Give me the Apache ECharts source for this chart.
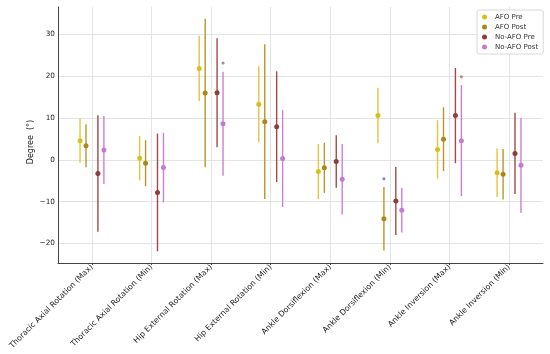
<!DOCTYPE html>
<html>
<head>
<meta charset="utf-8">
<script src="https://cdn.jsdelivr.net/npm/echarts@6/dist/echarts.min.js"></script>
<style>html,body{margin:0;padding:0;background:#fff}#c{width:550px;height:354px}</style>
</head>
<body>
<div id="c"></div>
<script>
var categories = ["Thoracic Axial Rotation (Max)", "Thoracic Axial Rotation (Min)", "Hip External Rotation (Max)", "Hip External Rotation (Min)", "Ankle Dorsiflexion (Max)", "Ankle Dorsiflexion (Min)", "Ankle Inversion (Max)", "Ankle Inversion (Min)"];
var yTicks = [-20, -10, 0, 10, 20, 30];
var seriesNames = ["AFO Pre", "AFO Post", "No-AFO Pre", "No-AFO Post"];
var afoPreMean = [4.6, 0.4, 21.9, 13.3, -2.8, 10.6, 2.5, -3.1];
var afoPreSd = [5.3, 5.3, 7.8, 9.1, 6.6, 6.65, 7.0, 5.8];
var afoPostMean = [3.35, -0.8, 16.0, 9.15, -1.9, -14.1, 4.95, -3.45];
var afoPostSd = [5.15, 5.5, 17.8, 18.55, 6.0, 7.6, 7.65, 6.05];
var noAfoPreMean = [-3.25, -7.8, 16.05, 7.95, -0.4, -9.85, 10.6, 1.55];
var noAfoPreSd = [13.95, 14.1, 13.05, 13.25, 6.3, 8.15, 11.4, 9.75];
var noAfoPostMean = [2.35, -1.85, 8.65, 0.3, -4.65, -12.05, 4.6, -1.3];
var noAfoPostSd = [8.15, 8.35, 12.45, 11.6, 8.45, 5.35, 13.3, 11.4];
// small extra points
var extraCat = [2, 5, 6];
var extraGroup = [3, 1, 3];
var extraVal = [23.2, -4.5, 19.9];

var offsets = [-0.2, -0.1, 0.1, 0.2];
var markerColors = ["#d6c01e", "#a8891c", "#8c3e3e", "#c27bd0"];
var lineColors = ["#e2c540", "#b8962a", "#a04a4a", "#cc80d4"];
var extraColors = ["#9a6e6e", "#5a5ae6", "#b86a48"];
var means = [afoPreMean, afoPostMean, noAfoPreMean, noAfoPostMean];
var sds = [afoPreSd, afoPostSd, noAfoPreSd, noAfoPostSd];

var series = [];
for (var g = 0; g < 4; g++) {
  (function (g) {
    series.push({
      name: seriesNames[g], type: 'scatter', symbol: 'circle', symbolSize: 5, z: 5,
      itemStyle: { color: markerColors[g], opacity: 1 },
      data: means[g].map(function (m, i) { return [i + offsets[g], m]; })
    });
  })(g);
}
for (var g2 = 0; g2 < 4; g2++) {
  (function (g) {
    series.push({
      name: seriesNames[g], type: 'custom', z: 3,
      renderItem: function (params, api) {
        var x = api.value(0), m = api.value(1), s = api.value(2);
        var p1 = api.coord([x, m - s]), p2 = api.coord([x, m + s]);
        return { type: 'line', shape: { x1: p1[0], y1: p1[1], x2: p2[0], y2: p2[1] },
          style: { stroke: lineColors[g], lineWidth: 1.4 } };
      },
      encode: { x: 0, y: 1 },
      data: means[g].map(function (m, i) { return [i + offsets[g], m, sds[g][i]]; })
    });
  })(g2);
}
series.push({
  type: 'scatter', symbolSize: 3, z: 6, silent: true,
  data: extraCat.map(function (c, k) {
    return { value: [c + offsets[extraGroup[k]], extraVal[k]], itemStyle: { color: extraColors[k] } };
  })
});

var chart = echarts.init(document.getElementById('c'), null, { renderer: 'canvas' });
chart.setOption({
  animation: false,
  textStyle: { fontFamily: 'DejaVu Sans' },
  grid: { left: 58, right: 7, top: 7, bottom: 91, containLabel: false },
  legend: {
    orient: 'vertical', left: 477, top: 10, data: seriesNames,
    icon: 'circle', itemWidth: 5, itemHeight: 5, itemGap: 2,
    padding: [3, 5, 3, 5], backgroundColor: '#fff', borderColor: '#d8d8d8', borderWidth: 1, borderRadius: 2,
    textStyle: { fontSize: 7, color: '#333', fontFamily: 'DejaVu Sans', lineHeight: 8, padding: [0, 0, 0, 3] }
  },
  xAxis: {
    type: 'value', min: -0.57, max: 7.57,
    axisLine: { show: true, onZero: false, lineStyle: { color: '#444', width: 1 } },
    axisTick: { show: true, customValues: [0, 1, 2, 3, 4, 5, 6, 7], length: 2, lineStyle: { color: '#444' } },
    axisLabel: { customValues: [0, 1, 2, 3, 4, 5, 6, 7], rotate: 45, fontSize: 7.8, color: '#222', margin: 3,
      formatter: function (v) { return categories[Math.round(v)]; } },
    splitLine: { show: true, lineStyle: { color: '#e4e4e4', width: 1 } }
  },
  yAxis: {
    type: 'value', min: -24.7, max: 36.6,
    name: 'Degree  (°)', nameLocation: 'middle', nameGap: 23, nameRotate: 90, nameMoveOverlap: false,
    nameTextStyle: { fontSize: 8, color: '#222', fontFamily: 'DejaVu Sans', padding: [0, 14, 0, 0] },
    axisLine: { show: true, onZero: false, lineStyle: { color: '#444', width: 1 } },
    axisTick: { show: false, customValues: yTicks },
    axisLabel: { customValues: yTicks, fontSize: 7.3, color: '#222', margin: 3,
      formatter: function (v) { return v < 0 ? '\u2212' + Math.abs(v) : String(v); } },
    splitLine: { show: true, lineStyle: { color: '#e4e4e4', width: 1 } }
  },
  series: series
});
</script>
</body>
</html>
